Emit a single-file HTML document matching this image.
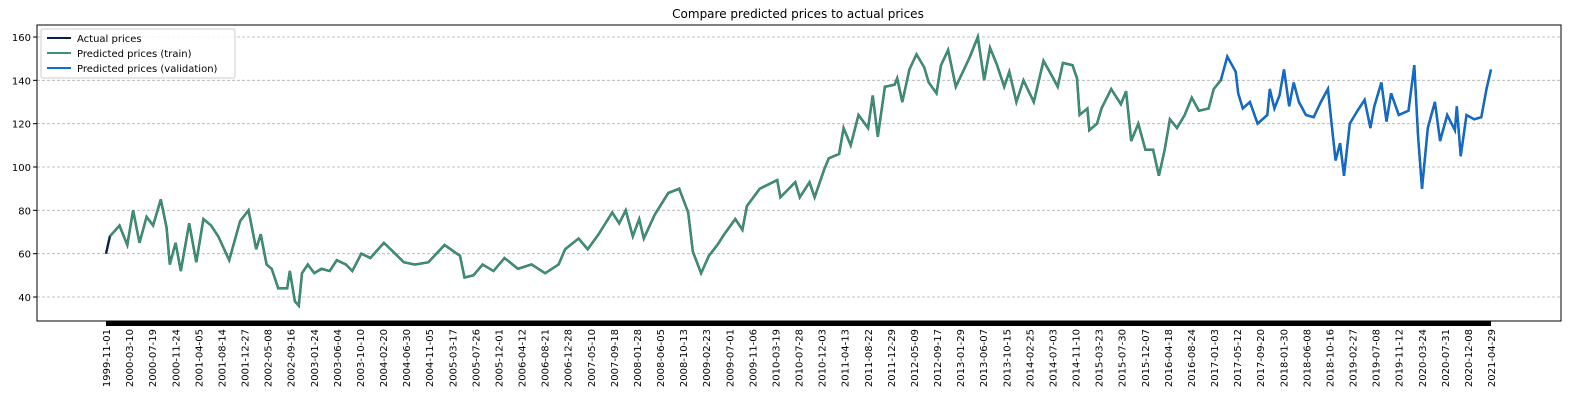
<!DOCTYPE html>
<html><head><meta charset="utf-8"><style>
html,body{margin:0;padding:0;background:#fff;}
svg{display:block;font-family:"DejaVu Sans","Liberation Sans",sans-serif;}
</style></head><body>
<svg id="chart" width="1594" height="407" viewBox="0 0 1594 407">
<rect x="0" y="0" width="1594" height="407" fill="#fff"/>
<text x="798" y="18" text-anchor="middle" font-size="12" fill="#000">Compare predicted prices to actual prices</text>
<g id="grid"></g>
<g id="yaxis"></g>
<g id="series"></g>
<rect x="37" y="25" width="1524" height="296" fill="none" stroke="#000" stroke-width="1"/>
<g id="xaxis"></g>
<g>
<rect x="41" y="29" width="194" height="49" rx="2" fill="#fff" fill-opacity="0.85" stroke="#ccc"/>
<line x1="47" y1="38" x2="71" y2="38" stroke="#0a1f44" stroke-width="2"/>
<text x="77" y="42" font-size="10">Actual prices</text>
<line x1="47" y1="53" x2="71" y2="53" stroke="#3b9470" stroke-width="2"/>
<text x="77" y="57" font-size="10">Predicted prices (train)</text>
<line x1="47" y1="68" x2="71" y2="68" stroke="#0b6fd6" stroke-width="2"/>
<text x="77" y="72" font-size="10">Predicted prices (validation)</text>
</g>
</svg>
<script>
const yTicks=[40,60,80,100,120,140,160];
const xLabels=["1999-11-01","2000-03-10","2000-07-19","2000-11-24","2001-04-05","2001-08-14","2001-12-27","2002-05-08","2002-09-16","2003-01-24","2003-06-04","2003-10-10","2004-02-20","2004-06-30","2004-11-05","2005-03-17","2005-07-26","2005-12-01","2006-04-12","2006-08-21","2006-12-28","2007-05-10","2007-09-18","2008-01-28","2008-06-05","2008-10-13","2009-02-23","2009-07-01","2009-11-06","2010-03-19","2010-07-28","2010-12-03","2011-04-13","2011-08-22","2011-12-29","2012-05-09","2012-09-17","2013-01-29","2013-06-07","2013-10-15","2014-02-25","2014-07-03","2014-11-10","2015-03-23","2015-07-30","2015-12-07","2016-04-18","2016-08-24","2017-01-03","2017-05-12","2017-09-20","2018-01-30","2018-06-08","2018-10-16","2019-02-27","2019-07-08","2019-11-12","2020-03-24","2020-07-31","2020-12-08","2021-04-29"];
const trainYears=[1999.83,1999.89,2000.04,2000.16,2000.25,2000.35,2000.46,2000.56,2000.68,2000.77,2000.82,2000.91,2000.99,2001.12,2001.23,2001.34,2001.46,2001.57,2001.74,2001.91,2002.04,2002.16,2002.23,2002.32,2002.40,2002.50,2002.64,2002.68,2002.76,2002.82,2002.87,2002.96,2003.06,2003.17,2003.30,2003.41,2003.55,2003.65,2003.79,2003.93,2004.14,2004.28,2004.45,2004.62,2004.83,2005.08,2005.32,2005.39,2005.53,2005.67,2005.84,2006.01,2006.22,2006.43,2006.64,2006.85,2006.95,2007.16,2007.30,2007.47,2007.68,2007.79,2007.89,2008.00,2008.10,2008.17,2008.34,2008.55,2008.72,2008.86,2008.93,2009.06,2009.18,2009.31,2009.42,2009.59,2009.70,2009.77,2009.97,2010.24,2010.29,2010.52,2010.59,2010.74,2010.82,2010.97,2011.04,2011.20,2011.27,2011.38,2011.50,2011.65,2011.72,2011.80,2011.91,2012.06,2012.10,2012.18,2012.29,2012.40,2012.52,2012.59,2012.71,2012.78,2012.89,2013.01,2013.12,2013.23,2013.35,2013.45,2013.54,2013.65,2013.76,2013.84,2013.95,2014.06,2014.22,2014.37,2014.52,2014.59,2014.67,2014.82,2014.89,2014.93,2015.05,2015.08,2015.20,2015.27,2015.42,2015.57,2015.65,2015.73,2015.84,2015.95,2016.07,2016.16,2016.25,2016.33,2016.44,2016.56,2016.67,2016.78,2016.93,2017.01,2017.12];
const trainPrices=[60,68,73,64,80,65,77,73,85,72,55,65,52,74,56,76,73,68,57,75,80,62,69,55,53,44,44,52,38,36,51,55,51,53,52,57,55,52,60,58,65,61,56,55,56,64,59,49,50,55,52,58,53,55,51,55,62,67,62,69,79,74,80,68,76,67,78,88,90,79,61,51,59,64,69,76,71,82,90,94,86,93,86,93,86,99,104,106,118,110,124,118,133,114,137,138,141,130,145,152,146,139,134,147,154,137,144,151,160,140,155,147,137,144,130,140,130,149,141,137,148,147,141,124,127,117,120,127,136,129,135,112,120,108,108,96,108,122,118,124,132,126,127,136,140];
const validYears=[2017.12,2017.22,2017.35,2017.39,2017.46,2017.57,2017.69,2017.84,2017.88,2017.95,2018.03,2018.10,2018.18,2018.25,2018.33,2018.44,2018.56,2018.67,2018.78,2018.86,2018.90,2018.97,2019.03,2019.12,2019.24,2019.35,2019.44,2019.50,2019.61,2019.69,2019.76,2019.88,2020.03,2020.12,2020.18,2020.24,2020.33,2020.44,2020.52,2020.63,2020.75,2020.78,2020.84,2020.93,2021.05,2021.16,2021.24,2021.31];
const validPrices=[140,151,144,134,127,130,120,124,136,127,133,145,128,139,130,124,123,130,136,114,103,111,96,120,126,131,118,128,139,121,134,124,126,147,114,90,118,130,112,124,117,128,105,124,122,123,136,145];

const NS="http://www.w3.org/2000/svg";
const X0=106,X1=1491,YR0=1999.83,YR1=2021.31;
function xs(yr){return X0+(yr-YR0)/(YR1-YR0)*(X1-X0);}
function ys(v){return 297-(v-40)*(260/120);}
function mk(tag,attrs,parent){const e=document.createElementNS(NS,tag);for(const k in attrs)e.setAttribute(k,attrs[k]);parent.appendChild(e);return e;}

const grid=document.getElementById('grid'),yax=document.getElementById('yaxis'),xax=document.getElementById('xaxis'),ser=document.getElementById('series');
yTicks.forEach(v=>{
  const g=mk('line',{x1:37,x2:1561,y1:ys(v),y2:ys(v),stroke:'#b0b0b0','stroke-dasharray':'3,2','stroke-width':0.8},grid);
  
  
  const t=mk('line',{x1:33,x2:37,y1:ys(v),y2:ys(v),stroke:'#000'},yax);
  
  
  const l=mk('text',{x:31,y:ys(v)+4,'text-anchor':'end','font-size':10},yax);
  l.textContent=v;
  
  
});
const bar=mk('rect',{x:X0,y:321,width:X1-X0,height:5,fill:'#000'},xax);


xLabels.forEach((s,i)=>{
  const x=X0+i*(X1-X0)/(xLabels.length-1);
  const t=mk('text',{x:0,y:0,'text-anchor':'end','font-size':10,transform:'translate('+(x+4)+',329) rotate(-90)'},xax);
  t.textContent=s;
  
  
});
function pts(yrs,vals){return yrs.map((y,i)=>xs(y).toFixed(1)+','+ys(vals[i]).toFixed(1)).join(' ');}
const actual=mk('polyline',{points:pts(trainYears.concat(validYears.slice(1)),trainPrices.concat(validPrices.slice(1))),fill:'none',stroke:'#0a1f44','stroke-width':2.4},ser);


const tr=mk('polyline',{points:pts(trainYears.slice(1),trainPrices.slice(1)),fill:'none',stroke:'#3b9470','stroke-width':2},ser);


const va=mk('polyline',{points:pts(validYears,validPrices),fill:'none',stroke:'#0b6fd6','stroke-width':2},ser);


</script>
</body></html>
